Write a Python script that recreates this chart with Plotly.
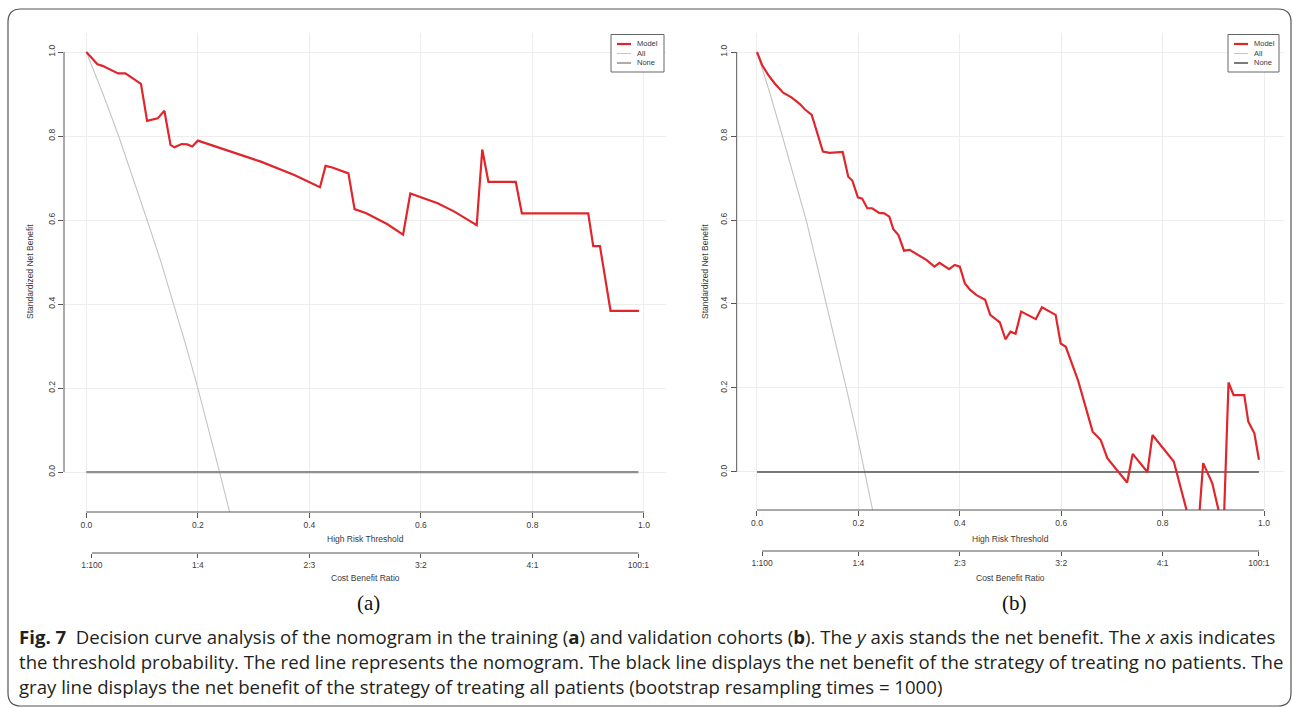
import plotly.graph_objects as go

W, H = 1293, 708

# ---------------- data ----------------
# Panel (a): training cohort
model_a_x = [0, 0.020, 0.029, 0.043, 0.057, 0.070, 0.098, 0.109, 0.128, 0.140, 0.151, 0.158, 0.171, 0.181,
             0.190, 0.200, 0.223, 0.268, 0.313, 0.373, 0.419, 0.429, 0.441, 0.470, 0.481, 0.502, 0.540, 0.568,
             0.581, 0.630, 0.660, 0.700, 0.710, 0.721, 0.770, 0.781, 0.900, 0.909, 0.921, 0.940, 0.991]
model_a_y = [1.0, 0.971, 0.967, 0.957, 0.949, 0.949, 0.924, 0.836, 0.842, 0.860, 0.779, 0.773, 0.781, 0.780,
             0.775, 0.789, 0.779, 0.760, 0.739, 0.707, 0.678, 0.729, 0.725, 0.711, 0.626, 0.616, 0.590, 0.565,
             0.663, 0.640, 0.620, 0.588, 0.768, 0.691, 0.691, 0.616, 0.616, 0.538, 0.538, 0.384, 0.384]
all_a_x = [0, 0.030, 0.058, 0.084, 0.109, 0.134, 0.157, 0.179, 0.200, 0.220, 0.239, 0.257]
all_a_y = [1.0, 0.90, 0.80, 0.70, 0.60, 0.50, 0.40, 0.30, 0.20, 0.10, 0.0, -0.095]

# Panel (b): validation cohort
model_b_x = [0, 0.010, 0.0225, 0.035, 0.0515, 0.068, 0.0846, 0.0947, 0.108, 0.118, 0.130, 0.143, 0.169, 0.180,
             0.188, 0.199, 0.2075, 0.2175, 0.227, 0.241, 0.251, 0.261, 0.269, 0.279, 0.290, 0.301, 0.317, 0.334,
             0.350, 0.360, 0.379, 0.390, 0.400, 0.410, 0.421, 0.433, 0.450, 0.460, 0.479, 0.490, 0.500, 0.510,
             0.521, 0.550, 0.562, 0.589, 0.599, 0.609, 0.633, 0.662, 0.678, 0.691, 0.707, 0.730, 0.741, 0.770,
             0.780, 0.803, 0.822, 0.858, 0.870, 0.880, 0.898, 0.914, 0.921, 0.930, 0.940, 0.961, 0.969, 0.981,
             0.990]
model_b_y = [1.0, 0.969, 0.945, 0.925, 0.903, 0.892, 0.876, 0.863, 0.850, 0.810, 0.763, 0.760, 0.762, 0.703,
             0.694, 0.654, 0.651, 0.628, 0.628, 0.617, 0.616, 0.608, 0.578, 0.564, 0.527, 0.529, 0.517, 0.505,
             0.489, 0.498, 0.483, 0.493, 0.489, 0.449, 0.433, 0.421, 0.410, 0.374, 0.356, 0.316, 0.334, 0.329,
             0.382, 0.364, 0.392, 0.374, 0.306, 0.298, 0.219, 0.096, 0.076, 0.033, 0.009, -0.025, 0.043, 0.0,
             0.088, 0.052, 0.025, -0.14, -0.14, 0.021, -0.027, -0.11, -0.11, 0.213, 0.183, 0.183, 0.120, 0.092,
             0.029]
all_b_x = [0, 0.026, 0.050, 0.074, 0.097, 0.117, 0.137, 0.157, 0.176, 0.195, 0.213, 0.228]
all_b_y = [1.0, 0.90, 0.80, 0.70, 0.60, 0.50, 0.40, 0.30, 0.20, 0.10, 0.0, -0.09]

none_x = [0, 0.99]
none_y = [0, 0]

x_ticks = [0, 0.2, 0.4, 0.6, 0.8, 1.0]
y_ticks = [0, 0.2, 0.4, 0.6, 0.8, 1.0]
cb_tickvals = [0.01, 0.2, 0.4, 0.6, 0.8, 0.99]
cb_ticktext = ["1:100", "1:4", "2:3", "3:2", "4:1", "100:1"]
legend_labels = ["Model", "All", "None"]

# ---------------- styles ----------------
RED = "#e0262b"
ALL_GRAY = "#c4c4c4"
NONE_A = "#8f8f8f"
NONE_B = "#4f4f4f"
AX = "#555555"
TXT = "#3a3a3a"
FONT = "Liberation Sans"
FS = 8.5


def px(x):
    return x / W


def py(y):
    return 1 - y / H


fig = go.Figure()

panels = [
    dict(xa="x", ya="y", xcb="x3", mx=model_a_x, my=model_a_y, ax=all_a_x, ay=all_a_y, none_col=NONE_A,
         none_w=2.2, xdom=[px(64), px(666.3)], ydom=[py(512), py(33.1)], yr=[-0.095, 1.045],
         cb_y=py(553), cx=365, ytitle_x=30, leg=(611, 664)),
    dict(xa="x2", ya="y2", xcb="x4", mx=model_b_x, my=model_b_y, ax=all_b_x, ay=all_b_y, none_col=NONE_B,
         none_w=1.5, xdom=[px(736.7), px(1284.3)], ydom=[py(510), py(33.1)], yr=[-0.0905, 1.045],
         cb_y=py(551), cx=1010, ytitle_x=705, leg=(1228, 1279)),
]

for i, p in enumerate(panels):
    fig.add_trace(go.Scatter(x=p["ax"], y=p["ay"], mode="lines", line=dict(color=ALL_GRAY, width=1.1),
                             xaxis=p["xa"], yaxis=p["ya"], showlegend=False, hoverinfo="skip"))
    fig.add_trace(go.Scatter(x=none_x, y=none_y, mode="lines", line=dict(color=p["none_col"], width=p["none_w"]),
                             xaxis=p["xa"], yaxis=p["ya"], showlegend=False, hoverinfo="skip"))
    fig.add_trace(go.Scatter(x=p["mx"], y=p["my"], mode="lines", line=dict(color=RED, width=2.2),
                             xaxis=p["xa"], yaxis=p["ya"], showlegend=False, hoverinfo="skip"))
    # placeholder trace to materialise the cost-benefit axis
    fig.add_trace(go.Scatter(x=[0.01, 0.99], y=[None, None], mode="lines", xaxis=p["xcb"], yaxis=p["ya"],
                             showlegend=False, hoverinfo="skip"))

axis_common = dict(showline=False, zeroline=False, ticks="outside", ticklen=5, tickwidth=1, tickcolor=AX,
                   tickfont=dict(family=FONT, size=FS, color=TXT), showgrid=True, gridcolor="#ededed",
                   gridwidth=1)

layout = dict(width=W, height=H, margin=dict(l=0, r=0, t=0, b=0), paper_bgcolor="white",
              plot_bgcolor="white", showlegend=False)

for i, p in enumerate(panels):
    n = "" if i == 0 else "2"
    layout["xaxis" + n] = dict(domain=p["xdom"], range=[-0.04, 1.04], anchor="y" + n, tickvals=x_ticks,
                               tickformat=".1f", **axis_common)
    layout["yaxis" + n] = dict(domain=p["ydom"], range=p["yr"], anchor="x" + n, tickvals=y_ticks,
                               tickformat=".1f", tickangle=-90, **axis_common)
    cbn = "3" if i == 0 else "4"
    layout["xaxis" + cbn] = dict(domain=p["xdom"], range=[-0.04, 1.04], anchor="free", position=p["cb_y"],
                                 overlaying="x" + n, side="bottom", tickvals=cb_tickvals, ticktext=cb_ticktext,
                                 showgrid=False, zeroline=False, showline=False, ticks="outside", ticklen=4,
                                 tickcolor=AX, tickfont=dict(family=FONT, size=FS, color=TXT))

fig.update_layout(**layout)

shapes = []
annotations = []
for i, p in enumerate(panels):
    n = "" if i == 0 else "2"
    xr, yr = "x" + n, "y" + n
    # R-style axis lines spanning first to last tick
    shapes.append(dict(type="line", xref=xr, yref=yr + " domain", x0=0, x1=1, y0=0, y1=0,
                       line=dict(color=AX, width=1)))
    shapes.append(dict(type="line", xref=xr + " domain", yref=yr, x0=0, x1=0, y0=0, y1=1,
                       line=dict(color=AX, width=1)))
    shapes.append(dict(type="line", xref=xr, yref="paper", x0=0.01, x1=0.99, y0=p["cb_y"], y1=p["cb_y"],
                       line=dict(color=AX, width=1)))
    # axis titles
    annotations.append(dict(text="High Risk Threshold", x=px(p["cx"]), y=py(539), xref="paper", yref="paper",
                            showarrow=False, xanchor="center", yanchor="middle",
                            font=dict(family=FONT, size=FS, color=TXT)))
    annotations.append(dict(text="Cost Benefit Ratio", x=px(p["cx"]), y=py(578), xref="paper", yref="paper",
                            showarrow=False, xanchor="center", yanchor="middle",
                            font=dict(family=FONT, size=FS, color=TXT)))
    annotations.append(dict(text="Standardized Net Benefit", x=px(p["ytitle_x"]), y=py(272), xref="paper",
                            yref="paper", showarrow=False, xanchor="center", yanchor="middle", textangle=-90,
                            font=dict(family=FONT, size=FS, color=TXT)))
    annotations.append(dict(text="(a)" if i == 0 else "(b)", x=px(p["cx"] + 4), y=py(603), xref="paper",
                            yref="paper", showarrow=False, xanchor="center", yanchor="middle",
                            font=dict(family="Liberation Serif", size=21, color="#111111")))
    # legend box (drawn)
    l, r = p["leg"]
    t, b = 34.5, 72
    shapes.append(dict(type="rect", xref="paper", yref="paper", x0=px(l), x1=px(r), y0=py(b), y1=py(t),
                       line=dict(color="#666666", width=1), fillcolor="white"))
    leg_cols = [RED, ALL_GRAY, p["none_col"]]
    leg_w = [2.2, 1, 1.5]
    for k, lab in enumerate(legend_labels):
        yy = 44 + k * 9.5
        shapes.append(dict(type="line", xref="paper", yref="paper", x0=px(l + 6), x1=px(l + 20), y0=py(yy),
                           y1=py(yy), line=dict(color=leg_cols[k], width=leg_w[k])))
        annotations.append(dict(text=lab, x=px(l + 24), y=py(yy), xref="paper", yref="paper", showarrow=False,
                                xanchor="left", yanchor="middle", font=dict(family=FONT, size=7.5, color=TXT)))

# rounded frame
x0, x1, y0, y1, rr = 8, 1291, 9, 706, 13
path = (f"M {px(x0)},{py(y0 + rr)} L {px(x0)},{py(y1 - rr)} Q {px(x0)},{py(y1)} {px(x0 + rr)},{py(y1)} "
        f"L {px(x1 - rr)},{py(y1)} Q {px(x1)},{py(y1)} {px(x1)},{py(y1 - rr)} "
        f"L {px(x1)},{py(y0 + rr)} Q {px(x1)},{py(y0)} {px(x1 - rr)},{py(y0)} "
        f"L {px(x0 + rr)},{py(y0)} Q {px(x0)},{py(y0)} {px(x0)},{py(y0 + rr)} Z")
shapes.append(dict(type="path", xref="paper", yref="paper", path=path, line=dict(color="#555555", width=1.2)))

# caption
CAP_FONT = dict(family="Open Sans", size=18.6, color="#231f20")
cap_lines = [
    "<b>Fig. 7</b>  Decision curve analysis of the nomogram in the training (<b>a</b>) and validation cohorts (<b>b</b>). "
    "The <i>y</i> axis stands the net benefit. The <i>x</i> axis indicates",
    "the threshold probability. The red line represents the nomogram. The black line displays the net benefit of "
    "the strategy of treating no patients. The",
    "gray line displays the net benefit of the strategy of treating all patients (bootstrap resampling times = 1000)",
]
for k, line in enumerate(cap_lines):
    annotations.append(dict(text=line, x=px(17), y=py(636 + 25 * k), xref="paper", yref="paper",
                            showarrow=False, xanchor="left", yanchor="middle", font=CAP_FONT))

fig.update_layout(shapes=shapes, annotations=annotations)
fig.write_html("out.html")
